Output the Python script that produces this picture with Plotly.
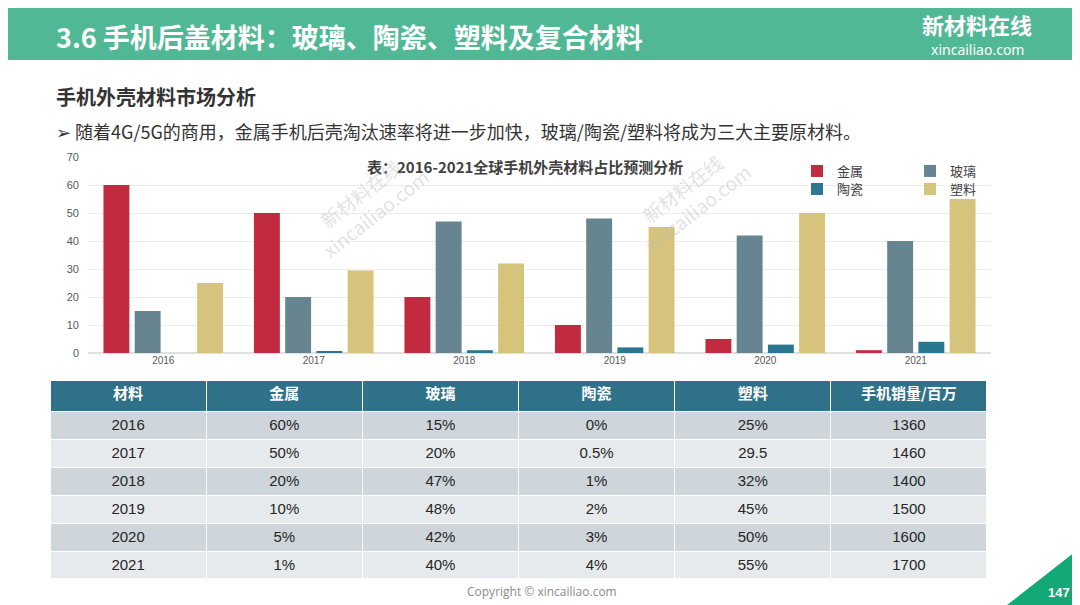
import plotly.graph_objects as go

# the page adds an 8px body margin, so the figure is drawn 8px smaller
# and every reference position is shifted by that offset
OFF = 8
W, H = 1080 - OFF, 605 - OFF

years = ['2016', '2017', '2018', '2019', '2020', '2021']
metal = [60, 50, 20, 10, 5, 1]
glass = [15, 20, 47, 48, 42, 40]
ceramic = [0, 0.5, 1, 2, 3, 4]
plastic = [25, 29.5, 32, 45, 50, 55]
sales = [1360, 1460, 1400, 1500, 1600, 1700]

table_header = ['材料', '金属', '玻璃', '陶瓷', '塑料', '手机销量/百万']
metal_txt = ['60%', '50%', '20%', '10%', '5%', '1%']
glass_txt = ['15%', '20%', '47%', '48%', '42%', '40%']
ceramic_txt = ['0%', '0.5%', '1%', '2%', '3%', '4%']
plastic_txt = ['25%', '29.5', '32%', '45%', '50%', '55%']

FONT = 'Noto Sans CJK SC'


def px(x):
    return (x - OFF) / W


def py(y):
    return 1 - (y - OFF) / H


# name, values, colour, which legend box (two rows of two)
series = [
    ('金属', metal, '#c12a3f', 'legend'),
    ('玻璃', glass, '#668591', 'legend'),
    ('陶瓷', ceramic, '#2b7791', 'legend2'),
    ('塑料', plastic, '#d6c47c', 'legend2'),
]

fig = go.Figure()

for name, vals, color, lg in series:
    fig.add_trace(go.Bar(
        x=years,
        y=vals,
        name=name,
        legend=lg,
        marker=dict(color=color, line=dict(width=0)),
        hoverinfo='y',
    ))

row_fill = ['#ced6dc', '#e6eaed'] * 3

fig.add_trace(go.Table(
    domain=dict(x=[px(50), px(987)], y=[py(579), py(380)]),
    columnwidth=[1, 1, 1, 1, 1, 1],
    header=dict(
        values=table_header,
        fill_color='#2e7189',
        line=dict(color='#ffffff', width=1),
        font=dict(family=FONT, size=15, color='#ffffff', weight='bold'),
        align='center',
        height=31,
    ),
    cells=dict(
        values=[years, metal_txt, glass_txt, ceramic_txt, plastic_txt,
                [str(s) for s in sales]],
        fill_color=[row_fill] * 6,
        line=dict(color='#ffffff', width=1),
        font=dict(family='Liberation Sans', size=15, color='#262626'),
        align='center',
        height=28,
    ),
))

legend_style = dict(
    orientation='h',
    xanchor='left', yanchor='middle',
    entrywidth=68,
    font=dict(family=FONT, size=13, color='#404040'),
    bgcolor='rgba(0,0,0,0)',
    itemwidth=30,
    tracegroupgap=0,
)

fig.update_layout(
    width=W,
    height=H,
    autosize=False,
    margin=dict(l=0, r=0, t=0, b=0, autoexpand=False),
    paper_bgcolor='#ffffff',
    plot_bgcolor='#ffffff',
    font=dict(family=FONT, color='#404040'),
    barmode='group',
    bargap=0.17,
    bargroupgap=0.17,
    showlegend=True,
    legend=dict(x=px(797), y=py(171), **legend_style),
    legend2=dict(x=px(797), y=py(189), **legend_style),
    xaxis=dict(
        domain=[px(88), px(991)],
        type='category',
        showline=False,
        ticks='',
        tickfont=dict(family='Liberation Sans', size=10, color='#595959'),
        showgrid=False,
    ),
    yaxis=dict(
        domain=[py(353), py(157)],
        range=[0, 70],
        dtick=10,
        showline=False,
        gridcolor='#ececec',
        gridwidth=1,
        zeroline=True,
        zerolinecolor='#e0e0e0',
        tickfont=dict(family='Liberation Sans', size=11, color='#595959'),
        ticklabelstandoff=8,
    ),
)

shapes = [
    dict(type='rect', xref='paper', yref='paper',
         x0=0, x1=1, y0=py(60), y1=1,
         fillcolor='#50b894', line=dict(width=0), layer='below'),
    dict(type='path', xref='paper', yref='paper',
         path=f'M {px(1007)} {py(605)} L {px(1080)} {py(605)} L {px(1080)} {py(548)} Z',
         fillcolor='#14a877', line=dict(width=0)),
]
fig.update_layout(shapes=shapes)

annotations = [
    dict(text='<b>3.6 手机后盖材料：玻璃、陶瓷、塑料及复合材料</b>',
         x=px(54), y=py(36), xanchor='left', yanchor='middle',
         font=dict(family=FONT, size=27, color='#ffffff')),
    dict(text='<b>新材料在线</b>',
         x=px(977), y=py(42), xanchor='center', yanchor='bottom',
         font=dict(family=FONT, size=22, color='#ffffff')),
    dict(text='xincailiao.com',
         x=px(977), y=py(38), xanchor='center', yanchor='top',
         font=dict(family='Noto Sans', size=14, color='#ffffff')),
    dict(text='<b>手机外壳材料市场分析</b>',
         x=px(54), y=py(97), xanchor='left', yanchor='middle',
         font=dict(family=FONT, size=20, color='#333333')),
    dict(text='➢ 随着4G/5G的商用，金属手机后壳淘汰速率将进一步加快，玻璃/陶瓷/塑料将成为三大主要原材料。',
         x=px(54), y=py(131), xanchor='left', yanchor='middle',
         font=dict(family=FONT, size=18, color='#333333')),
    dict(text='<b>表：2016-2021全球手机外壳材料占比预测分析</b>',
         x=px(525), y=py(166), xanchor='center', yanchor='middle',
         font=dict(family=FONT, size=15, color='#404040')),
    dict(text='Copyright © xincailiao.com',
         x=px(542), y=py(591), xanchor='center', yanchor='middle',
         font=dict(family='Open Sans', size=12, color='#8c8c8c')),
    dict(text='<b>147</b>',
         x=px(1059), y=py(592), xanchor='center', yanchor='middle',
         font=dict(family='Liberation Sans', size=13, color='#ffffff')),
]

for cx, cy in [(368, 203), (690, 198)]:
    annotations.append(dict(
        text='新材料在线<br>xincailiao.com',
        x=px(cx), y=py(cy), xanchor='center', yanchor='middle',
        textangle=-38, showarrow=False,
        font=dict(family=FONT, size=19, color='rgba(190,190,190,0.45)'),
    ))

for a in annotations:
    a.setdefault('showarrow', False)
    a['xref'] = 'paper'
    a['yref'] = 'paper'

fig.update_layout(annotations=annotations)

fig.write_html("out.html")
